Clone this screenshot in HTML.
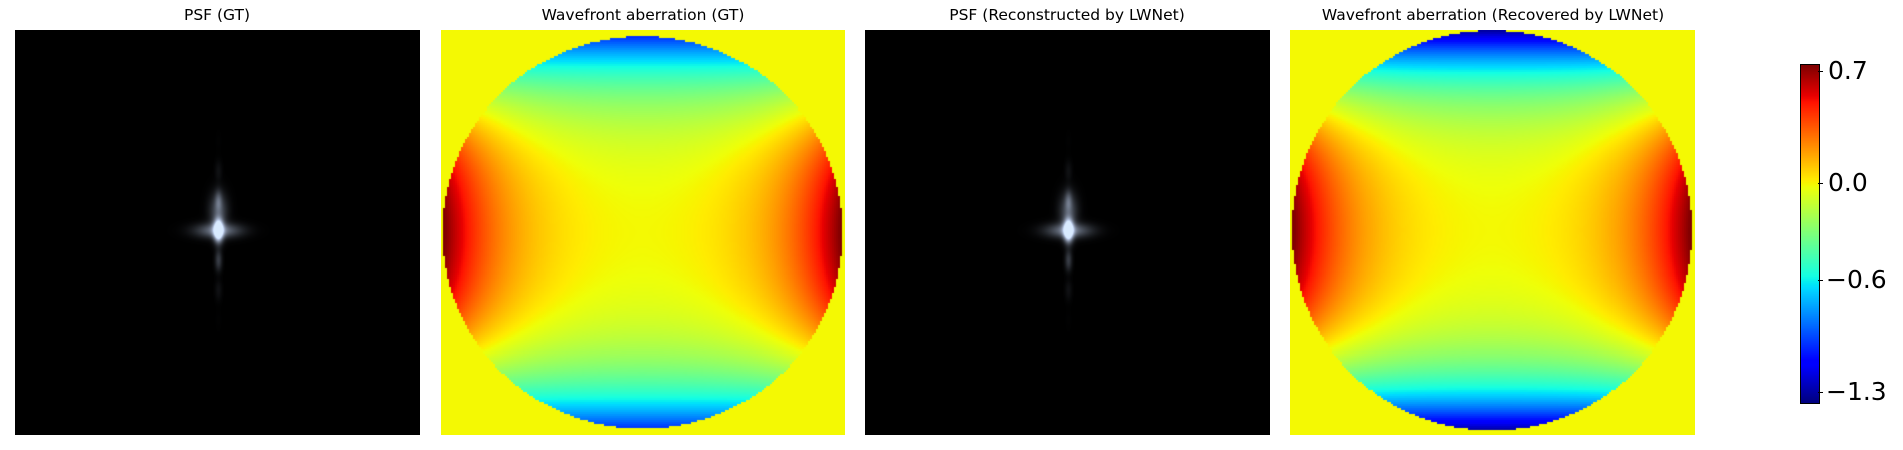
<!DOCTYPE html>
<html><head><meta charset="utf-8">
<style>
body{margin:0;background:#fff;width:1903px;height:450px;overflow:hidden;font-family:"DejaVu Sans","Liberation Sans",sans-serif;position:relative}
.t{position:absolute;top:6px;font-size:15.5px;color:#000;text-align:center;white-space:nowrap;transform:translateX(-50%)}
canvas{position:absolute}
.lab{position:absolute;font-family:"DejaVu Sans",sans-serif;font-size:25px;color:#000;line-height:25px}
.tick{position:absolute;left:1818px;width:5px;height:1px;background:#000}
</style></head><body>
<div class="t" style="left:217px">PSF (GT)</div>
<div class="t" style="left:643px">Wavefront aberration (GT)</div>
<div class="t" style="left:1067px">PSF (Reconstructed by LWNet)</div>
<div class="t" style="left:1493px">Wavefront aberration (Recovered by LWNet)</div>
<canvas id="p1" width="405" height="405" style="left:15px;top:30px"></canvas>
<canvas id="p2" width="404" height="405" style="left:441px;top:30px"></canvas>
<canvas id="p3" width="405" height="405" style="left:865px;top:30px"></canvas>
<canvas id="p4" width="405" height="405" style="left:1290px;top:30px"></canvas>
<canvas id="cb" width="18" height="338" style="left:1800px;top:64px;box-sizing:border-box;border:1px solid #000"></canvas>
<div id="ticks"></div>
<script>
const cbTicks=[0.7,0.0,-0.6,-1.3];
const cbTickLabels=["0.7","0.0","\u22120.6","\u22121.3"];
const vmin=-1.362, vmax=0.744;
// wavefront coefficients: [x^2, x^4, y-falloff of x-terms, y^4, y^2]
const gtCoef=[0.3,0.48,1.3,0.72,0.3];
const recCoef=[0.32,0.46,1.3,1.0,0.32];
// circle: [rx, ry, center y]
const gtCircle=[201,197,203];
const recCircle=[201,201,201];
function interp(t,pts){for(let k=1;k<pts.length;k++){if(t<=pts[k][0]){const a=pts[k-1],b=pts[k];return a[1]+(b[1]-a[1])*(t-a[0])/(b[0]-a[0]);}}return pts[pts.length-1][1];}
function jet(v){
  let t=(v-vmin)/(vmax-vmin);t=Math.max(0,Math.min(1,t));
  const r=interp(t,[[0,0],[0.35,0],[0.66,1],[0.89,1],[1,0.5]]);
  const g=interp(t,[[0,0],[0.125,0],[0.375,1],[0.64,1],[0.91,0],[1,0]]);
  const b=interp(t,[[0,0.5],[0.11,1],[0.34,1],[0.65,0],[1,0]]);
  return [r,g,b].map(c=>Math.round(c*255));
}
function wave(id,coef,circ){
  const c=document.getElementById(id),g=c.getContext('2d');
  const W=c.width,H=c.height,N=200,cs=W/N,ch=H/N;
  const [rx,ry,cy]=circ;
  for(let i=0;i<N;i++)for(let j=0;j<N;j++){
    const px=(i+0.5)*cs,py=(j+0.5)*ch;
    const x=(px-W/2)/rx,y=(py-cy)/ry;
    let v=0;
    if(x*x+y*y<0.995){
      const fx=(coef[0]*x*x+coef[1]*x*x*x*x)*Math.max(0,1-coef[2]*y*y);
      v=fx-coef[3]*y*y*y*y-coef[4]*y*y;
    }
    const col=jet(v);
    g.fillStyle=`rgb(${col[0]},${col[1]},${col[2]})`;
    g.fillRect(Math.floor(i*cs),Math.floor(j*ch),Math.ceil(cs)+1,Math.ceil(ch)+1);
  }
}
wave('p2',gtCoef,gtCircle);
wave('p4',recCoef,recCircle);
function psf(id){
  const c=document.getElementById(id),g=c.getContext('2d');
  const W=c.width,H=c.height,img=g.createImageData(W,H);
  const cx=203,cy=200;
  for(let y=0;y<H;y++)for(let x=0;x<W;x++){
    const dx=x-cx,dy=y-cy;
    let v=Math.exp(-(dx*dx/(2*12)+dy*dy/(2*60)))
      +0.4*Math.exp(-(dx*dx/(2*6)+dy*dy/(2*1100)))*(0.6+0.4*Math.cos(dy/5))
      +0.5*Math.exp(-(dx*dx/(2*250)+dy*dy/(2*25)))
      +0.35*Math.exp(-(dx*dx/(2*40)+(dy+20)*(dy+20)/(2*150)));
    v=Math.min(1,v);
    const i=(y*W+x)*4;
    img.data[i]=Math.round(255*Math.min(1,v*0.85));
    img.data[i+1]=Math.round(255*Math.min(1,v*0.92));
    img.data[i+2]=Math.round(255*Math.min(1,v*1.05));
    img.data[i+3]=255;
  }
  g.putImageData(img,0,0);
}
psf('p1');psf('p3');
(function(){
  const c=document.getElementById('cb'),g=c.getContext('2d');
  for(let y=0;y<c.height;y++){const v=vmax-(y/(c.height-1))*(vmax-vmin);const col=jet(v);g.fillStyle=`rgb(${col[0]},${col[1]},${col[2]})`;g.fillRect(0,y,c.width,1);}
  const T=document.getElementById('ticks');
  cbTicks.forEach((t,k)=>{
    const y=64+(vmax-t)/(vmax-vmin)*338;
    const tk=document.createElement('div');
    
    
    tk.className='tick';tk.style.top=y+'px';T.appendChild(tk);
    const l=document.createElement('div');
    
    
    l.className='lab';l.style.left=(cbTickLabels[k][0]=='\u2212'?1826:1828)+'px';l.style.top=(y-13)+'px';l.textContent=cbTickLabels[k];T.appendChild(l);
  });
})();
</script>
</body></html>
